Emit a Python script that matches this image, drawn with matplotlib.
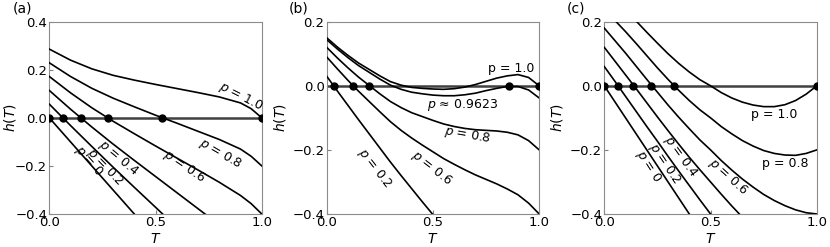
import matplotlib
matplotlib.use("Agg")
import matplotlib.pyplot as plt

# --- values ---
T_a = [0.0, 0.1, 0.2, 0.3, 0.4, 0.5, 0.6, 0.7, 0.8, 0.9, 0.95, 1.0]
T_bc = [0.0, 0.05, 0.1, 0.15, 0.2, 0.25, 0.3, 0.35, 0.4, 0.45, 0.5,
        0.55, 0.6, 0.65, 0.7, 0.75, 0.8, 0.85, 0.9, 0.95, 1.0]

# panel (a)
a_p10 = [0.286, 0.240, 0.204, 0.177, 0.157, 0.139, 0.122, 0.105, 0.087, 0.062, 0.038, 0.0]
a_p08 = [0.229, 0.172, 0.123, 0.082, 0.046, 0.011, -0.022, -0.056, -0.090, -0.130, -0.160, -0.200]
a_p06 = [0.172, 0.104, 0.042, -0.014, -0.066, -0.117, -0.167, -0.217, -0.268, -0.323, -0.357, -0.400]
a_p04 = [0.114, 0.036, -0.038, -0.109, -0.177, -0.244, -0.311, -0.378, -0.445]
a_p02 = [0.057, -0.032, -0.119, -0.205, -0.289, -0.372, -0.456]
a_p00 = [0.0, -0.1, -0.2, -0.3, -0.4, -0.5]
a_roots = [0.0, 0.065, 0.150, 0.276, 0.531, 1.0]

# panel (b)
b_p10 = [0.150, 0.121, 0.095, 0.071, 0.051, 0.031, 0.013, 0.002, -0.005, -0.008, -0.010,
         -0.011, -0.009, -0.004, 0.004, 0.014, 0.024, 0.031, 0.035, 0.026, 0.0]
b_p096 = [0.144, 0.115, 0.088, 0.063, 0.042, 0.021, 0.002, -0.011, -0.020, -0.025, -0.029,
          -0.031, -0.031, -0.028, -0.023, -0.015, -0.008, -0.002, -0.002, -0.013, -0.038]
b_p08 = [0.120, 0.087, 0.056, 0.027, 0.001, -0.025, -0.049, -0.068, -0.084, -0.096, -0.108,
         -0.119, -0.127, -0.133, -0.137, -0.139, -0.141, -0.145, -0.153, -0.171, -0.200]
b_p06 = [0.090, 0.053, 0.017, -0.017, -0.049, -0.081, -0.112, -0.139, -0.163, -0.185, -0.206,
         -0.227, -0.245, -0.262, -0.278, -0.292, -0.306, -0.322, -0.340, -0.366, -0.400]
b_p02 = [0.030, -0.016, -0.061, -0.106, -0.150, -0.194, -0.238, -0.280, -0.321, -0.362, -0.402, -0.442]
b_roots = [0.034, 0.125, 0.200, 0.859, 1.0]

# panel (c)
c_p10 = [0.300, 0.268, 0.236, 0.202, 0.167, 0.133, 0.100, 0.070, 0.043, 0.019, 0.000,
         -0.021, -0.038, -0.051, -0.060, -0.065, -0.065, -0.059, -0.046, -0.026, 0.000]
c_p08 = [0.240, 0.204, 0.169, 0.132, 0.094, 0.056, 0.020, -0.014, -0.046, -0.075, -0.100,
         -0.127, -0.150, -0.171, -0.188, -0.202, -0.211, -0.216, -0.217, -0.211, -0.200]
c_p06 = [0.180, 0.141, 0.102, 0.061, 0.020, -0.020, -0.060, -0.098, -0.134, -0.169, -0.200,
         -0.233, -0.263, -0.291, -0.316, -0.339, -0.358, -0.374, -0.387, -0.396, -0.400]
c_p04 = [0.120, 0.077, 0.034, -0.009, -0.053, -0.097, -0.140, -0.182, -0.223, -0.262, -0.300,
         -0.338, -0.375, -0.410]
c_p02 = [0.060, 0.014, -0.033, -0.080, -0.127, -0.173, -0.220, -0.266, -0.311, -0.356, -0.400, -0.444]
c_p00 = [0.0, -0.05, -0.10, -0.15, -0.20, -0.25, -0.30, -0.35, -0.40, -0.45]
c_roots = [0.0, 0.066, 0.137, 0.220, 0.328, 1.0]

# labels: (text, T, h, rotation)
a_labels = [("$p$ = 1.0", 0.90, 0.088, -27), ("$p$ = 0.8", 0.806, -0.148, -30),
            ("$p$ = 0.6", 0.633, -0.203, -34), ("$p$ = 0.4", 0.326, -0.168, -40),
            ("$p$ = 0.2", 0.263, -0.203, -46), ("$p$ = 0", 0.184, -0.182, -49)]
b_labels = [("p = 1.0", 0.867, 0.055, 0), ("$p$ ≈ 0.9623", 0.641, -0.060, 0),
            ("$p$ = 0.8", 0.664, -0.153, -10), ("$p$ = 0.6", 0.492, -0.258, -38),
            ("$p$ = 0.2", 0.226, -0.257, -52)]
c_labels = [("p = 1.0", 0.799, -0.091, 0), ("p = 0.8", 0.851, -0.242, 0),
            ("$p$ = 0.6", 0.584, -0.284, -42), ("$p$ = 0.4", 0.356, -0.221, -54),
            ("$p$ = 0.2", 0.286, -0.242, -56), ("$p$ = 0", 0.207, -0.252, -57)]

panels = [
    ("(a)", T_a, [a_p10, a_p08, a_p06, a_p04, a_p02, a_p00], a_roots, a_labels, (-0.4, 0.4), [-0.4, -0.2, 0.0, 0.2, 0.4]),
    ("(b)", T_bc, [b_p10, b_p096, b_p08, b_p06, b_p02], b_roots, b_labels, (-0.4, 0.2), [-0.4, -0.2, 0.0, 0.2]),
    ("(c)", T_bc, [c_p10, c_p08, c_p06, c_p04, c_p02, c_p00], c_roots, c_labels, (-0.4, 0.2), [-0.4, -0.2, 0.0, 0.2]),
]

lefts = [49.3, 326.7, 604.3]
ylabel_x = [-0.147, -0.181, -0.185]
panel_tag_x = [13, 289, 567]

fig = plt.figure(figsize=(8.3, 2.47), dpi=100)
for i, (tag, T, curves, roots, labels, ylim, yticks) in enumerate(panels):
    ax = fig.add_axes([lefts[i] / 830, 1 - 214 / 247, 212.5 / 830, 192.3 / 247])
    ax.axhline(0, color="0.25", lw=1.8, zorder=2)
    for h in curves:
        ax.plot(T[:len(h)], h, color="black", lw=1.2, zorder=3)
    ax.plot(roots, [0] * len(roots), "o", color="black", ms=5, zorder=4)
    for txt, x, y, rot in labels:
        ax.text(x, y, txt, rotation=rot, ha="center", va="center", fontsize=9,
                rotation_mode="anchor")
    ax.set_xlim(0, 1)
    ax.set_ylim(*ylim)
    ax.set_xticks([0.0, 0.5, 1.0])
    ax.set_yticks(yticks)
    ax.tick_params(direction="in", length=3, pad=1.5, labelsize=9.5, color="0.5")
    for s in ax.spines.values():
        s.set_color("0.55")
    ax.set_xlabel("$T$", fontsize=10)
    ax.set_ylabel("$h(T)$", fontsize=10)
    ax.xaxis.set_label_coords(0.5, -0.094)
    ax.yaxis.set_label_coords(ylabel_x[i], 0.5)
    fig.text(panel_tag_x[i] / 830, 1 - 2 / 247, tag, ha="left", va="top", fontsize=10)

fig.savefig("out.png", dpi=100)
